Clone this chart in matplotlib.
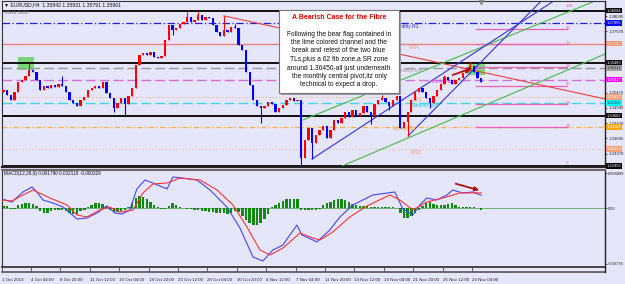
import numpy as np
import matplotlib.pyplot as plt
import matplotlib.transforms as mtransforms
from matplotlib.patches import Rectangle
from matplotlib.lines import Line2D

plt.rcParams['font.family'] = ['Liberation Sans', 'DejaVu Sans']

BG = '#E6E6FA'
W, H = 625, 284

# EURUSD H4, one candle drawn every 2 bars (bar 0 = 1 Oct 2013 00:00)
first_open = 1.3548
closes = [1.3556, 1.3539, 1.3521, 1.3549, 1.3583, 1.3590, 1.3604, 1.3624, 1.3617, 1.3590,
          1.3556, 1.3569, 1.3563, 1.3573, 1.3566, 1.3576, 1.3569, 1.3549, 1.3521, 1.3511,
          1.3501, 1.3521, 1.3532, 1.3556, 1.3563, 1.3569, 1.3563, 1.3583, 1.3545, 1.3528,
          1.3494, 1.3511, 1.3528, 1.3508, 1.3535, 1.3563, 1.3641, 1.3676, 1.3682, 1.3676,
          1.3686, 1.3669, 1.3665, 1.3672, 1.3727, 1.3779, 1.3762, 1.3768, 1.3782, 1.3789,
          1.3806, 1.3789, 1.3796, 1.3813, 1.3796, 1.3806, 1.3803, 1.3779, 1.3755, 1.3741,
          1.3762, 1.3755, 1.3772, 1.3768, 1.3710, 1.3693, 1.3617, 1.3573, 1.3521, 1.3501,
          1.3494, 1.3501, 1.3514, 1.3508, 1.3480, 1.3494, 1.3504, 1.3521, 1.3528, 1.3518,
          1.3521, 1.3322, 1.3384, 1.3425, 1.3374, 1.3401, 1.3419, 1.3432, 1.3391, 1.3419,
          1.3453, 1.3443, 1.3460, 1.3480, 1.3463, 1.3487, 1.3466, 1.3477, 1.3501, 1.3480,
          1.3466, 1.3508, 1.3521, 1.3528, 1.3514, 1.3501, 1.3521, 1.3535, 1.3425, 1.3446,
          1.3480, 1.3521, 1.3549, 1.3563, 1.3549, 1.3528, 1.3511, 1.3535, 1.3556, 1.3576,
          1.3600, 1.3590, 1.3576, 1.3590, 1.3597, 1.3614, 1.3624, 1.3638, 1.3617, 1.3597,
          1.3583]
wick_highs = {7: 1.3648, 16: 1.3604, 50: 1.3823, 53: 1.3823, 60: 1.3810, 63: 1.3782,
              103: 1.3539, 120: 1.3607, 127: 1.3652}
wick_lows = {30: 1.3480, 33: 1.3470, 46: 1.3745, 70: 1.3443, 81: 1.3295, 84: 1.3319,
             100: 1.3439, 105: 1.3487, 110: 1.3399, 116: 1.3494}

# horizontal objects: price, colour, style, width, right label colours
hlines = [
    (1.38284, '#000000', '-', 1.3, '#000000', 'white'),
    (1.37855, '#2222DD', (0, (6, 2, 1, 2)), 0.9, '#0000FF', 'white'),
    (1.37152, '#F08080', '-', 1.0, '#F4906A', 'white'),
    (1.36483, '#000000', '-', 1.3, '#000000', 'white'),
    (1.36312, '#999999', (0, (7, 3)), 1.0, '#A0A0A0', '#333333'),
    (1.35917, '#D070D0', (0, (7, 3)), 1.0, '#FF00FF', 'white'),
    (1.35317, '#F4B090', (0, (1, 2)), 0.8, '#F4A07A', 'white'),
    (1.35110, '#40D8E8', (0, (7, 3)), 1.0, '#00FFFF', '#333333'),
    (1.34682, '#000000', '-', 1.3, '#000000', 'white'),
    (1.34288, '#FFB040', (0, (4, 2, 1, 2)), 0.9, '#FFA500', 'white'),
    (1.33533, '#F4B090', (0, (1, 2)), 0.8, '#F4A07A', 'white'),
    (1.32950, '#000000', '-', 1.3, '#000000', 'white'),
]
line_labels = [
    ('Monthly R1', 216.0, 1.3772, '#2222DD'),
    ('MM4', 224.7, 1.3700, '#F4A080'),
    ('MonthlyPivot', 217.1, 1.3621, '#999999'),
    ('Daily Pivot', 237.2, 1.3586, '#E040E0'),
    ('MM3', 225.8, 1.3521, '#F4A080'),
    ('WeeklyPivot', 226.3, 1.3501, '#30C8E0'),
    ('MonthlyS1', 216.0, 1.3422, '#FFA030'),
    ('MM2', 225.8, 1.3343, '#F4A080'),
]

fib_low, fib_high = 1.3302, 1.3840
fib_levels = [0, 0.236, 0.382, 0.5, 0.618, 0.764, 0.86, 1.0]
fib_x = (261.2, 310.7)

trend_lines = [
    ((124.0, 1.3810), (331.4, 1.3525), '#F04040'),
    ((167.0, 1.3453), (326.0, 1.3861), '#44BB44'),
    ((188.3, 1.3295), (331.4, 1.3679), '#44BB44'),
    ((171.9, 1.3319), (304.2, 1.3864), '#3333DD'),
    ((224.2, 1.3398), (297.1, 1.3864), '#3333DD'),
]
zones = [((11.9, 1.3624), (20.6, 1.3669)), ((256.8, 1.3607), (266.1, 1.3652))]

# right scale; three of them sit behind the object labels in the reference
price_ticks = [1.38095, 1.37570, 1.35470, 1.34945, 1.34420, 1.33895, 1.33370]

# MACD(12,26,9)
macd_bar = [3.2, 8.6, 14.6, 19.5, 22.2, 25.5, 30.9, 36.4, 40.2, 44.0, 49.4, 54.9, 60.3,
            64.7, 68.5, 72.8, 76.6, 81.0, 85.3, 93.0, 96.2, 101.1, 109.3, 116.4, 125.6,
            132.7, 139.8, 145.2, 150.6, 156.1, 163.7, 166.4, 172.4, 174.6, 181.6, 187.1,
            194.1, 205.0, 217.0, 221.4, 226.8, 230.6, 234.4, 239.8, 245.3, 248.5, 254.0,
            259.4, 264.0]
macd_main = [0.00126, 0.00084, 0.00224, 0.00294, 0.00224, 0.00112, 0.00070, 0.00014,
             -0.00070, -0.00154, -0.00140, -0.00070, 0.00028, -0.00070, -0.00084, -0.00028,
             0.00266, 0.00392, 0.00350, 0.00266, 0.00434, 0.00420, 0.00392, 0.00252,
             0.00014, -0.00280, -0.00686, -0.00742, -0.00588, -0.00518, -0.00238, -0.00378,
             -0.00448, -0.00476, -0.00308, -0.00126, 0.00042, 0.00182, 0.00224, -0.00014,
             -0.00098, 0.00042, 0.00140, 0.00112, 0.00182, 0.00252, 0.00210, 0.00224,
             0.00179]
signal_bar = [3.2, 8.6, 14.6, 20.1, 29.3, 38.6, 44.0, 49.4, 56.5, 61.9, 67.4, 74.5, 79.9,
              85.3, 93.0, 100.1, 111.0, 120.2, 128.9, 136.5, 143.6, 149.1, 156.1, 165.4,
              172.4, 176.3, 183.2, 192.5, 201.8, 214.3, 219.8, 226.8, 234.4, 243.1, 252.4,
              264.0]
signal = [0.00112, 0.00098, 0.00182, 0.00252, 0.00140, 0.00042, -0.00098, -0.00126,
          -0.00028, 0.00014, -0.00056, -0.00028, 0.00210, 0.00336, 0.00350, 0.00420,
          0.00392, 0.00252, 0.00042, -0.00266, -0.00588, -0.00658, -0.00560, -0.00350,
          -0.00420, -0.00448, -0.00336, -0.00126, 0.00028, 0.00182, 0.00112, -0.00028,
          0.00084, 0.00140, 0.00210, 0.00212]
osma = [0.00028, 0.00028, -0.00014, -0.00014, 0.00042, 0.00056, 0.00070, 0.00070, 0.00056, 0.00028,
        -0.00042, -0.00070, -0.00070, -0.00042, -0.00028, -0.00028, -0.00028, -0.00042, -0.00070, -0.00084,
        -0.00084, -0.00042, -0.00028, 0.00014, 0.00042, 0.00070, 0.00070, 0.00056, 0.00028, -0.00028,
        -0.00056, -0.00056, -0.00042, -0.00028, 0.00014, 0.00070, 0.00140, 0.00168, 0.00154, 0.00126,
        0.00084, 0.00042, 0.00014, -0.00014, -0.00014, 0.00028, 0.00070, 0.00042, 0.00014, 0.00000,
        -0.00014, -0.00014, -0.00028, -0.00028, -0.00042, -0.00042, -0.00056, -0.00056, -0.00070, -0.00070,
        -0.00070, -0.00084, -0.00070, -0.00042, -0.00056, -0.00112, -0.00168, -0.00210, -0.00238, -0.00238,
        -0.00210, -0.00154, -0.00084, 0.00014, 0.00042, 0.00070, 0.00098, 0.00126, 0.00126, 0.00126,
        0.00126, -0.00028, -0.00028, -0.00028, -0.00028, -0.00028, -0.00014, 0.00042, 0.00070, 0.00084,
        0.00112, 0.00126, 0.00126, 0.00112, 0.00084, 0.00056, 0.00042, 0.00028, 0.00028, 0.00028,
        0.00014, 0.00014, 0.00014, 0.00014, 0.00014, 0.00014, 0.00014, 0.00000, -0.00070, -0.00140,
        -0.00140, -0.00112, -0.00070, -0.00028, 0.00028, 0.00070, 0.00084, 0.00056, 0.00042, 0.00042,
        0.00042, 0.00056, 0.00070, 0.00042, 0.00014, 0.00014, 0.00014, 0.00014, 0.00014, 0.00000,
        -0.00033]

date_bars = [3.2] + [19 + 16 * j for j in range(16)]
date_labels = ['1 Oct 2013', '4 Oct 04:00', '8 Oct 20:00', '11 Oct 12:00', '16 Oct 04:00',
               '18 Oct 20:00', '23 Oct 12:00', '28 Oct 04:00', '30 Oct 20:00', '4 Nov 12:00',
               '7 Nov 04:00', '11 Nov 20:00', '14 Nov 12:00', '19 Nov 04:00', '21 Nov 20:00',
               '26 Nov 12:00', '29 Nov 04:00']

note_title = 'A Bearish Case for the Fibre'
note_lines = ['Following the bear flag contained in', 'the lime colored channel and the',
              'break and retest of the two blue', 'TLs,plus a 62 fib zone,a SR zone',
              'around 1.36450-all just underneath', 'the monthly central pivot,itz only',
              'technical to expect a drop.']


def fig_rect(x0, y0, x1, y1):
    return [x0 / W, 1 - y1 / H, (x1 - x0) / W, (y1 - y0) / H]


fig = plt.figure(figsize=(6.25, 2.84), dpi=100, facecolor=BG)
ax = fig.add_axes(fig_rect(2, 1, 605, 167), facecolor=BG)
mx = fig.add_axes(fig_rect(2, 170, 605, 267), facecolor=BG, sharex=ax)
ax.set_xlim(3.2, 331.4)
ax.set_ylim(1.32916, 1.38610)
mx.set_ylim(-0.00826, 0.00532)

# zones and horizontal lines
for (x0, y0), (x1, y1) in zones:
    ax.add_patch(Rectangle((x0, y0), x1 - x0, y1 - y0, fc='#77D877', ec='none', zorder=1))
right = mtransforms.blended_transform_factory(ax.transAxes, ax.transData)
for price, col, ls, lw, box, tc in hlines:
    ax.axhline(price, color=col, ls=ls, lw=lw, zorder=1.5)
    ax.text(1.0025, price, '%.5f' % price, transform=right, fontsize=3.0, color=tc,
            va='center', ha='left', clip_on=False, zorder=6,
            bbox=dict(boxstyle='square,pad=0.15', fc=box, ec='none'))
for txt, bx, py, col in line_labels:
    ax.text(bx, py, txt, fontsize=3.6, color=col, ha='left', va='center', zorder=2)

# fibonacci
for lev in fib_levels:
    fp = fib_low + lev * (fib_high - fib_low)
    if 0 < lev < 1:
        ax.plot(fib_x, [fp, fp], color='#F060B0', lw=0.9, zorder=1.6)
    ax.text(fib_x[1] - 0.5, fp + 0.0004, '%g' % round(lev * 100), fontsize=3.2,
            color='#F060B0', ha='left', va='center', zorder=2)

for (x0, y0), (x1, y1), col in trend_lines:
    ax.plot([x0, x1], [y0, y1], color=col, lw=0.8, zorder=1.7)

# candles
bars = 4 + 2 * np.arange(len(closes))
opens = [first_open] + closes[:-1]
body_b, body_h, cols, wl, wh = [], [], [], [], []
for k, (o, c) in enumerate(zip(opens, closes)):
    cols.append('#FF0000' if c >= o else '#0000FF')
    body_b.append(min(o, c))
    body_h.append(max(abs(c - o), 0.0001))
    wh.append(wick_highs.get(k, max(o, c)))
    wl.append(wick_lows.get(k, min(o, c)))
ax.vlines(bars, wl, wh, colors=cols, lw=0.8, zorder=3)
ax.bar(bars, body_h, bottom=body_b, width=1.25, color=cols, lw=0, zorder=3)

ax.annotate('', xy=(260.6, 1.3634), xytext=(247.0, 1.3604),
            arrowprops=dict(arrowstyle='-|>', color='#B01010', lw=1.3, mutation_scale=6),
            zorder=4)
ax.plot(bars[-1], 1.3858, marker='v', color='#888888', ms=3, zorder=4, clip_on=False)

# MACD panel
mx.bar(bars, osma, width=1.3, color='#118811', lw=0, zorder=2)
mx.axhline(0, color='#118811', lw=0.4, zorder=1.5)
mx.plot(macd_bar, macd_main, color='#4444FF', lw=0.8, zorder=3)
mx.plot(signal_bar, signal, color='#FF3333', lw=0.8, zorder=3)
mx.annotate('', xy=(264.4, 0.00238), xytext=(248.7, 0.0035),
            arrowprops=dict(arrowstyle='-|>', color='#B01010', lw=1.3, mutation_scale=6),
            zorder=4)

# axes styling
for a in (ax, mx):
    a.yaxis.tick_right()
    a.tick_params(axis='y', labelsize=3.1, length=1.5, width=0.5, pad=0.8, colors='#222222')
    for s in ('top', 'left'):
        a.spines[s].set_color('#333333')
        a.spines[s].set_linewidth(0.8)
    a.spines['right'].set_color('#222222')
    a.spines['right'].set_linewidth(1.0)
ax.spines['bottom'].set_linewidth(1.6)
ax.spines['bottom'].set_color('#222222')
mx.spines['bottom'].set_linewidth(1.4)
mx.spines['bottom'].set_color('#444444')
mx.spines['top'].set_color('#666666')
mx.spines['top'].set_linewidth(1.4)
ax.set_yticks(price_ticks)
ax.set_yticklabels(['%.5f' % t for t in price_ticks])
ax.tick_params(axis='x', bottom=False, labelbottom=False)
mx.set_yticks([0.004899, 0.0, -0.00778])
mx.set_yticklabels(['0.004899', '0.00', '-0.00778'])
mx.tick_params(axis='y', labelsize=2.9)
mx.set_xticks(date_bars)
mx.set_xticklabels(date_labels)
mx.tick_params(axis='x', labelsize=3.2, length=3, width=0.5, pad=5, colors='#222222')
for lbl in mx.get_xticklabels():
    lbl.set_ha('left')

fig.add_artist(Line2D([2 / W, 605 / W], [1 - 272 / H] * 2, color='#555555', lw=1.2))
fig.add_artist(Line2D([605 / W, 605 / W], [1 - 272 / H, 1 - 267 / H], color='#222222', lw=1.0))

fig.text(4 / W, 1 - 5 / H, '\u25bc EURUSD,H4  1.35842 1.35931 1.35791 1.35901',
         fontsize=3.7, va='center', color='#111111')
fig.text(5 / W, 1 - 12 / H, 'Make Safer', fontsize=3.3, va='center', color='#777777')
fig.text(4 / W, 1 - 174 / H, 'MACD(12,26,9) 0.001790 0.002118 -0.000328',
         fontsize=3.4, va='center', color='#111111')

# annotation box
fig.add_artist(Rectangle((281 / W, 1 - 95 / H), 120 / W, 83 / H, transform=fig.transFigure,
                         fc='#9A9AA8', ec='none', zorder=8))
fig.add_artist(Rectangle((279 / W, 1 - 93 / H), 120 / W, 83 / H, transform=fig.transFigure,
                         fc='white', ec='#777777', lw=0.8, zorder=9))
fig.text(339 / W, 1 - 17.5 / H, note_title, fontsize=5.0, fontweight='bold', color='#E00000',
         ha='center', va='center', zorder=10)
for i, line in enumerate(note_lines):
    fig.text(339 / W, 1 - (34 + 8.5 * i) / H, line, fontsize=4.8, color='#111111',
             ha='center', va='center', zorder=10)

fig.savefig('out.png', dpi=100, facecolor=BG)
